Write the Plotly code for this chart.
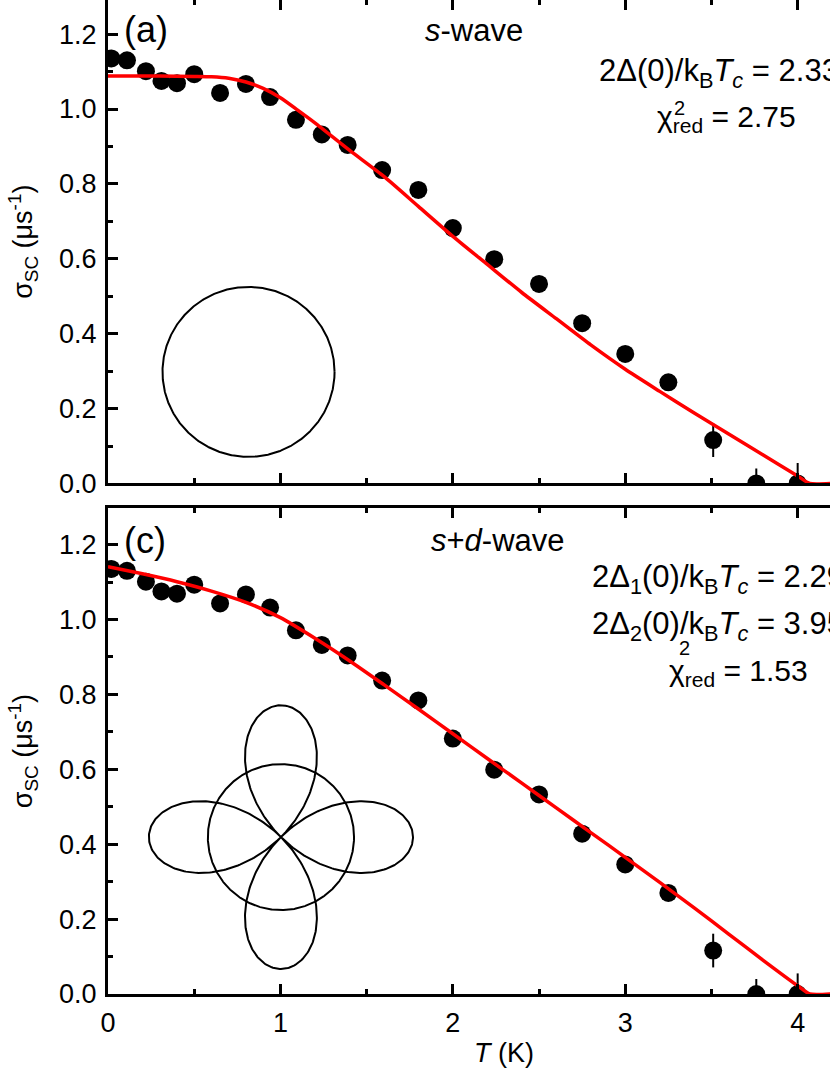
import numpy as np
import plotly.graph_objects as go

# ---------------- data ----------------
T_data = [0.02, 0.11, 0.22, 0.31, 0.40, 0.50, 0.65, 0.80, 0.94, 1.09, 1.24, 1.39,
          1.59, 1.80, 2.00, 2.24, 2.50, 2.75, 3.00, 3.25, 3.51, 3.76, 4.00]
sigma_data = [1.135, 1.130, 1.101, 1.075, 1.069, 1.093, 1.043, 1.067, 1.032, 0.971, 0.932, 0.904,
              0.837, 0.784, 0.682, 0.599, 0.533, 0.428, 0.346, 0.270, 0.116, 0.0, 0.0]
sigma_err = [0.02, 0.02, 0.02, 0.02, 0.02, 0.02, 0.02, 0.02, 0.02, 0.02, 0.02, 0.02,
             0.02, 0.02, 0.02, 0.02, 0.02, 0.02, 0.02, 0.02, 0.045, 0.04, 0.055]

T_fit_s = [0.0, 0.3, 0.5, 0.6, 0.7, 0.8, 0.9, 1.0, 1.1, 1.2, 1.4, 1.6, 1.8, 2.0, 2.2, 2.4, 2.6,
           2.8, 3.0, 3.2, 3.4, 3.6, 3.8, 4.0, 4.07, 4.19]
sigma_fit_s = [1.088, 1.088, 1.087, 1.086, 1.082, 1.072, 1.055, 1.030, 0.997, 0.963, 0.890, 0.820, 0.740,
               0.660, 0.585, 0.510, 0.440, 0.370, 0.305, 0.246, 0.188, 0.132, 0.076, 0.020, 0.0, 0.0]

T_fit_sd = [0.0, 0.2, 0.4, 0.6, 0.8, 1.0, 1.2, 1.4, 1.6, 1.8, 2.0, 2.2, 2.4, 2.6, 2.8,
            3.0, 3.2, 3.4, 3.6, 3.8, 4.0, 4.07, 4.19]
sigma_fit_sd = [1.141, 1.122, 1.101, 1.076, 1.046, 1.005, 0.950, 0.890, 0.826, 0.761, 0.695,
                0.629, 0.563, 0.497, 0.431, 0.365, 0.298, 0.230, 0.160, 0.090, 0.022, 0.0, 0.0]

x_ticks = [0, 1, 2, 3, 4]
y_ticks = [0.0, 0.2, 0.4, 0.6, 0.8, 1.0, 1.2]

# ---------------- styling ----------------
FONT = "Liberation Sans, Arial, sans-serif"
X_RANGE = [0, 4.1875]
TOP_YRANGE = [0, 1.2911]
BOT_YRANGE = [0, 1.2977]

fig = go.Figure()

def add_panel(xa, ya, fit_T, fit_s):
    fig.add_trace(go.Scatter(
        x=T_data, y=sigma_data, mode="markers", xaxis=xa, yaxis=ya,
        marker=dict(color="black", size=18, symbol="circle"),
        error_y=dict(type="data", array=sigma_err, color="black", thickness=2, width=0),
        showlegend=False, hoverinfo="skip"))
    fig.add_trace(go.Scatter(
        x=fit_T, y=fit_s, mode="lines", xaxis=xa, yaxis=ya, line_shape="spline",
        line=dict(color="#ff0000", width=3.5, smoothing=0.6), showlegend=False, hoverinfo="skip"))

add_panel("x", "y", T_fit_s, sigma_fit_s)
add_panel("x2", "y2", T_fit_sd, sigma_fit_sd)

# ---- inset schematics (gap symmetry drawings) ----
theta = np.linspace(0, 2 * np.pi, 721)
s_c = (0.815, 0.298); s_r = (0.499, 0.227)
fig.add_trace(go.Scatter(x=s_c[0] + s_r[0] * np.cos(theta), y=s_c[1] + s_r[1] * np.sin(theta),
                         mode="lines", line=dict(color="black", width=2),
                         xaxis="x", yaxis="y", showlegend=False, hoverinfo="skip"))
sd_c = (1.003, 0.419); sd_r = (0.424, 0.195); d_R = (0.766, 0.352)
fig.add_trace(go.Scatter(x=sd_c[0] + sd_r[0] * np.cos(theta), y=sd_c[1] + sd_r[1] * np.sin(theta),
                         mode="lines", line=dict(color="black", width=2),
                         xaxis="x2", yaxis="y2", showlegend=False, hoverinfo="skip"))
rr = np.abs(np.cos(2 * theta))
fig.add_trace(go.Scatter(x=sd_c[0] + d_R[0] * rr * np.cos(theta), y=sd_c[1] + d_R[1] * rr * np.sin(theta),
                         mode="lines", line=dict(color="black", width=2),
                         xaxis="x2", yaxis="y2", showlegend=False, hoverinfo="skip"))

axis_common = dict(showgrid=False, zeroline=False, linecolor="black", linewidth=3,
                   ticks="inside", tickcolor="black", tickwidth=2.5, ticklen=10, automargin=False,
                   ticklabelstandoff=3,
                   tickfont=dict(family=FONT, size=27, color="black"))
minor_x = dict(ticks="inside", dtick=0.5, ticklen=5, tickwidth=2.5, tickcolor="black", showgrid=False)
minor_y = dict(ticks="inside", dtick=0.1, ticklen=5, tickwidth=2.5, tickcolor="black", showgrid=False)

ytitle = dict(text="σ<sub>SC</sub> (μs<sup>-1</sup>)", font=dict(family=FONT, size=27, color="black"), standoff=19)

fig.update_layout(
    width=830, height=1075, autosize=False,
    margin=dict(l=108, r=0, t=0, b=81),
    paper_bgcolor="white", plot_bgcolor="white",
    xaxis=dict(**axis_common, anchor="y", range=X_RANGE, tickvals=x_ticks, showticklabels=False,
               showline=True, minor=minor_x),
    xaxis3=dict(**axis_common, anchor="y", overlaying="x", side="top", range=X_RANGE, tickvals=x_ticks,
                showticklabels=False, showline=False, minor=minor_x),
    yaxis=dict(**axis_common, domain=[0.5136, 1.0], anchor="x", range=TOP_YRANGE, tickvals=y_ticks,
               tickformat=".1f", showline=True, minor=minor_y, title=ytitle),
    xaxis2=dict(**axis_common, anchor="y2", range=X_RANGE, tickvals=x_ticks, showline=True, mirror="ticks",
                minor=minor_x),
    yaxis2=dict(**axis_common, domain=[0.0, 0.4889], anchor="x2", range=BOT_YRANGE, tickvals=y_ticks,
                tickformat=".1f", showline=True, minor=minor_y, title=ytitle),
)
fig.add_trace(go.Scatter(x=[0], y=[-1], xaxis="x3", yaxis="y", mode="markers",
                         marker=dict(opacity=0), showlegend=False, hoverinfo="skip"))

def ann(text, x, y, xref, yref, size, xanchor="left", yshift=0):
    fig.add_annotation(text=text, x=x, y=y, xref=xref, yref=yref, showarrow=False,
                       xanchor=xanchor, yanchor="middle", yshift=yshift,
                       font=dict(family=FONT, size=size, color="black"))

# x-axis title (centred on the full, partly cropped axis)
ann("<i>T</i> (K)", 2.295, 0, "x2", "paper", 27, "center", yshift=-59)

# top panel texts
ann("(a)", 0.084, 1.212, "x", "y", 36)
ann("<i>s</i>-wave", 2.122, 1.211, "x", "y", 31, "center")
ann("2Δ(0)/k<sub>B</sub><i>T</i><sub><i>c</i></sub> = 2.33", 2.835, 1.095, "x", "y", 31)
ann("χ<sub>red</sub> = 2.75", 3.172, 0.975, "x", "y", 30)
ann("2", 3.27, 1.003, "x", "y", 20)

# bottom panel texts
ann("(c)", 0.084, 1.212, "x2", "y2", 36)
ann("<i>s</i>+<i>d</i>-wave", 2.261, 1.21, "x2", "y2", 31, "center")
ann("2Δ<sub>1</sub>(0)/k<sub>B</sub><i>T</i><sub><i>c</i></sub> = 2.29", 2.795, 1.107, "x2", "y2", 31)
ann("2Δ<sub>2</sub>(0)/k<sub>B</sub><i>T</i><sub><i>c</i></sub> = 3.95", 2.795, 0.982, "x2", "y2", 31)
ann("χ<sub>red</sub> = 1.53", 3.241, 0.859, "x2", "y2", 30)
ann("2", 3.30, 0.924, "x2", "y2", 20)

fig.write_html("out.html", config={"displayModeBar": False},
               post_script="document.body.style.margin='0px';")
